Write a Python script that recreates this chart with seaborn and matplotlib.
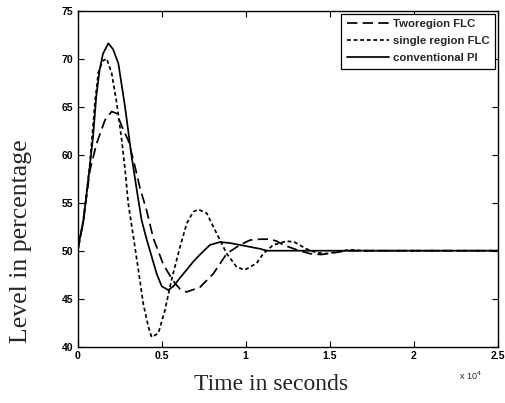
import numpy as np
import pandas as pd
import matplotlib
matplotlib.use("Agg")
import matplotlib.pyplot as plt
import seaborn as sns

# Data (time in seconds, level in %)
series_names = ["Tworegion FLC", "single region FLC", "conventional PI"]

t_two = [0, 330, 730, 1130, 1620, 2020, 2320, 2710, 3010, 3410, 3710, 4100,
         4500, 5090, 5490, 5790, 6100, 6480, 7280, 8070, 8870, 9660, 10250,
         10850, 11440, 11840, 12240, 13030, 13800, 14500, 15300, 16000, 25000]
y_two = [50.0, 53.0, 58.4, 61.2, 63.6, 64.5, 64.3, 62.6, 61.5, 58.75, 56.5, 54.2,
         51.3, 48.6, 47.4, 46.6, 46.0, 45.7, 46.2, 47.6, 49.7, 50.6, 51.1,
         51.2, 51.2, 51.0, 50.6, 50.1, 49.7, 49.6, 49.8, 50.0, 50.0]

t_single = [0, 330, 700, 1030, 1230, 1500, 1725, 2020, 2320, 2620, 2815, 3010,
            3310, 3610, 3900, 4200, 4400, 4800, 5190, 5590, 6090, 6490, 6880,
            7180, 7680, 8270, 8870, 9460, 9950, 10650, 11050, 11640, 12440,
            12900, 13600, 14200, 14800, 15500, 16200, 17000, 25000]
y_single = [50.0, 53.2, 58.6, 65.5, 68.6, 69.8, 70.0, 68.5, 65.4, 61.5, 58.5, 54.9,
            51.5, 48.0, 44.5, 42.1, 41.0, 41.4, 43.8, 47.0, 50.4, 52.85, 54.06,
            54.3, 53.9, 51.8, 49.7, 48.3, 48.0, 48.7, 49.7, 50.6, 51.0,
            50.9, 50.2, 49.8, 49.7, 49.9, 50.1, 50.0, 50.0]

t_pi = [0, 150, 330, 500, 700, 920, 1100, 1300, 1500, 1820, 2100, 2420, 2815,
        3210, 3500, 3800, 4100, 4400, 4700, 5000, 5390, 5700, 6100, 6480, 6900,
        7280, 7870, 8470, 9060, 9660, 10250, 10850, 11250, 12000, 25000]
y_pi = [50.0, 51.5, 53.0, 55.5, 58.5, 62.0, 66.0, 68.8, 70.5, 71.6, 71.0, 69.5, 65.0,
        59.8, 56.5, 53.2, 51.2, 49.4, 47.6, 46.3, 45.9, 46.3, 47.2, 48.0, 48.9,
        49.6, 50.6, 50.9, 50.8, 50.6, 50.4, 50.2, 50.0, 50.0, 50.0]

x_ticks = [0, 5000, 10000, 15000, 20000, 25000]
x_ticklabels = ["0", "0.5", "1", "1.5", "2", "2.5"]
y_ticks = [40, 45, 50, 55, 60, 65, 70, 75]

df = pd.concat([
    pd.DataFrame({"t": t_two, "level": y_two, "series": series_names[0]}),
    pd.DataFrame({"t": t_single, "level": y_single, "series": series_names[1]}),
    pd.DataFrame({"t": t_pi, "level": y_pi, "series": series_names[2]}),
])

sns.set_style("ticks")
plt.rcParams["font.family"] = ["Liberation Sans", "DejaVu Sans"]
serif = ["Liberation Serif", "DejaVu Serif"]

fig = plt.figure(figsize=(5.06, 4.03), dpi=100)
ax = fig.add_axes([0.1536, 0.1397, 0.83, 0.8337])

sns.lineplot(data=df, x="t", y="level", style="series", style_order=series_names,
             dashes={series_names[0]: (6, 3), series_names[1]: (2.2, 1.6),
                     series_names[2]: ""},
             color="black", linewidth=1.25, estimator=None, sort=False, ax=ax)

ax.set_xlim(0, 25000)
ax.set_ylim(40, 75)
ax.set_xticks(x_ticks)
ax.set_xticklabels(x_ticklabels)
ax.set_yticks(y_ticks)
ax.tick_params(direction="in", length=4, width=0.8, top=True, right=True,
               labelsize=7.5, pad=3, colors="black")
for lab in ax.get_xticklabels() + ax.get_yticklabels():
    lab.set_fontweight("bold")
for sp in ax.spines.values():
    sp.set_linewidth(1.0)
    sp.set_color("black")

ax.set_xlabel("Time in seconds", family=serif, fontsize=17)
ax.xaxis.set_label_coords(0.461, -0.082)
ax.set_ylabel("Level in percentage", family=serif, fontsize=18.5)
ax.yaxis.set_label_coords(-0.108, 0.315)

ax.text(0.936, -0.068, r"x 10$^4$", transform=ax.transAxes, fontsize=6.5,
        ha="center", va="top")

leg = ax.legend(loc="upper right", fontsize=8.2, frameon=True, fancybox=False,
                edgecolor="black", handlelength=3.7, borderaxespad=0.25,
                labelspacing=0.6, handletextpad=0.3, borderpad=0.5)
leg.get_frame().set_linewidth(0.9)
leg.get_frame().set_alpha(1)
for txt in leg.get_texts():
    txt.set_fontweight("bold")

fig.savefig("out.png", dpi=100)
